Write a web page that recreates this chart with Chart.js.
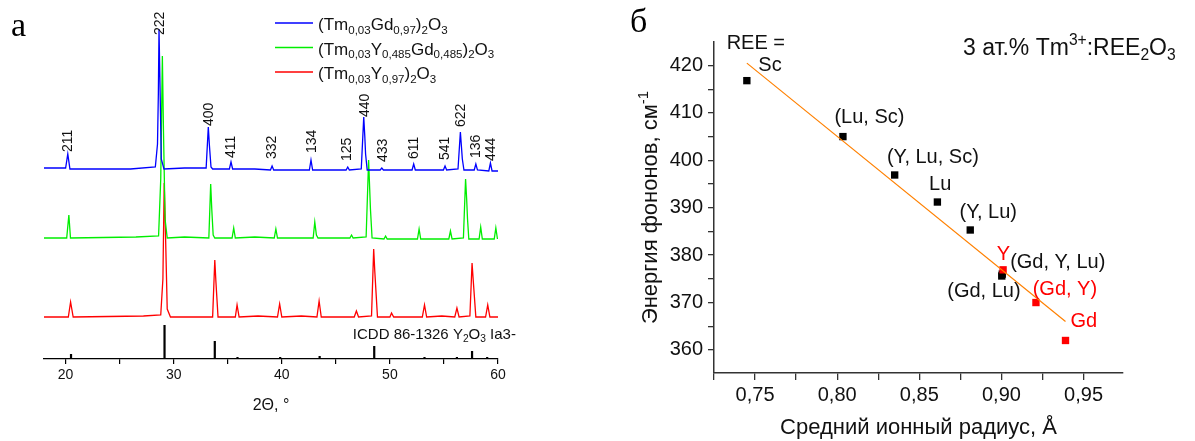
<!DOCTYPE html>
<html>
<head>
<meta charset="utf-8">
<script src="https://cdn.jsdelivr.net/npm/chart.js@4.4.1/dist/chart.umd.min.js"></script>
<style>
  html, body { margin: 0; padding: 0; background: #fff; }
  #wrap { position: relative; width: 1195px; height: 441px; overflow: hidden; }
  #xrd { position: absolute; left: 0; top: 0; }
  #phon { position: absolute; left: 560px; top: 0; }
</style>
</head>
<body>
<div id="wrap">
  <canvas id="xrd" width="560" height="441"></canvas>
  <canvas id="phon" width="635" height="441"></canvas>
</div>
<script>
// ---- panel а : XRD patterns (2θ, intensity incl. vertical offset) ----
const gdPattern = [[18,191],[20.0,191],[20.2,205],[20.4,190],[24,190],[26,190],[28.3,192],[28.5,215],[28.58,266],[28.64,330],[28.75,262],[28.85,200],[29.1,190],[31,191],[33.0,191],[33.2,232],[33.3,214],[33.45,192],[33.6,190],
  [35.15,190],[35.3,197],[35.45,190],[37.5,190],[38.95,189],[39.1,193],[39.25,189],[42.55,189],[42.7,199],[42.85,189],[45.95,189],[46.1,192],[46.25,189],[47.35,190],[47.58,242],[47.68,222],[47.75,205],[47.9,189],
  [49.1,189],[49.25,191],[49.4,189],[52.05,189],[52.2,195],[52.35,189],[54.95,189],[55.1,193],[55.25,189],[56.3,190],[56.52,227],[56.62,212],[56.7,200],[56.85,189],[57.8,189],[57.95,195],[58.1,189],[59.15,188],[59.3,196],[59.45,188],[60,188]];
const gdYPattern = [[18,121],[20.1,121],[20.3,144],[20.45,121],[26.5,122],[28.6,123],[28.8,180],[28.95,303],[29.05,230],[29.2,140],[29.4,121],[31,122],[33.25,121],[33.42,175],[33.52,150],[33.65,124],[33.8,121],
  [35.4,121],[35.55,131],[35.7,121],[37.5,122],[39.3,121],[39.45,130],[39.6,121],[41.5,121],[42.9,121],[43.05,137],[43.2,124],[43.35,121],[46.3,121],[46.45,124],[46.6,121],[47.8,122],[48.03,199],[48.13,170],[48.2,150],[48.35,121],
  [49.45,120],[49.6,123],[49.75,120],[52.55,120],[52.7,130],[52.85,120],[55.45,120],[55.6,128],[55.75,120],[56.8,121],[57.0,180],[57.1,160],[57.18,140],[57.3,120],[58.25,120],[58.4,132],[58.55,120],[59.65,120],[59.8,131],[59.95,120]];
const yPattern = [[18,42],[20.25,42],[20.46,57],[20.7,42],[27.2,43],[28.8,44],[29.0,80],[29.12,176],[29.25,120],[29.4,50],[29.7,42],[33.6,42],[33.8,99],[33.9,78],[34.1,42],[35.7,42],[35.86,54],[36.05,42],[37.8,43],
  [39.6,42],[39.8,55],[40.0,42],[41.8,43],[43.25,42],[43.45,58],[43.65,42],[46.7,42],[46.9,48],[47.1,42],[48.3,43],[48.5,110],[48.6,88],[48.85,42],[50.0,42],[50.15,46],[50.35,42],[53.0,42],[53.2,54],[53.4,42],[54.8,43],
  [56.0,42],[56.2,51],[56.4,42],[57.4,43],[57.6,96],[57.7,80],[57.95,42],[58.85,42],[59.05,54],[59.25,42],[60,42]];
// ICDD 86-1326 reference lines: [2θ, relative height]
const icddSticks = [[20.5,5],[29.15,34],[31.5,1],[33.8,18],[35.9,2],[37.7,1],[39.85,2],[41.7,1],[43.5,3],[46.9,1],[48.55,13],[50.2,1],[53.2,2],[55.0,1],[56.2,2],[57.6,8],[59.0,2]];
// Miller indices over the top pattern
const millerIdx = ['211','222','400','411','332','134','125','440','433','611','541','622','136','444'];
const millerPos = [20.25,28.7,33.25,35.35,39.15,42.8,46.05,47.7,49.35,52.25,55.15,56.6,57.95,59.35];
const millerBase = [207,324,233,201,200,206,198,242,197,200,199,232,201,198];
const xrdTicks = [20, 30, 40, 50, 60];

// ---- panel б : phonon energy vs mean ionic radius ----
const reeBlack = ['Sc','(Lu, Sc)','(Y, Lu, Sc)','Lu','(Y, Lu)','(Gd, Y, Lu)','(Gd, Lu)'];
const radiusBlack = [0.745,0.8035,0.835,0.861,0.881,0.9005,0.9002];
const phononBlack = [416.8,405.0,396.9,391.2,385.3,376.0,375.6];
const reeRed = ['Y','(Gd, Y)','Gd'];
const radiusRed = [0.901,0.921,0.939];
const phononRed = [376.9,370.0,362.0];
const fitRadius = [0.745,0.939];
const fitPhonon = [420.5,366.0];

const SANS = '"Liberation Sans", Arial, sans-serif';

function richText(ctx, x, y, parts, size, color, measureOnly) {
  let cx = x;
  ctx.save();
  ctx.fillStyle = color;
  ctx.textAlign = 'left';
  ctx.textBaseline = 'alphabetic';
  parts.forEach(p => {
    const kind = p[1];
    const s = kind ? size * 0.68 : size;
    const dy = kind === 'sub' ? size * 0.22 : (kind === 'sup' ? -size * 0.42 : 0);
    ctx.font = s + 'px ' + SANS;
    if (!measureOnly) ctx.fillText(p[0], cx, y + dy);
    cx += ctx.measureText(p[0]).width;
  });
  ctx.restore();
  return cx - x;
}

const legendRows = [
  {color: '#0000ff', parts: [['(Tm'],['0,03','sub'],['Gd'],['0,97','sub'],[')'],['2','sub'],['O'],['3','sub']]},
  {color: '#00ee00', parts: [['(Tm'],['0,03','sub'],['Y'],['0,485','sub'],['Gd'],['0,485','sub'],[')'],['2','sub'],['O'],['3','sub']]},
  {color: '#ff0000', parts: [['(Tm'],['0,03','sub'],['Y'],['0,97','sub'],[')'],['2','sub'],['O'],['3','sub']]}
];

const xrdDecor = {
  id: 'xrdDecor',
  afterDraw(chart) {
    const ctx = chart.ctx, xs = chart.scales.x, ys = chart.scales.y;
    // miller labels
    ctx.save();
    ctx.fillStyle = '#111';
    ctx.font = '14px ' + SANS;
    ctx.textAlign = 'left';
    ctx.textBaseline = 'middle';
    millerIdx.forEach((t, i) => {
      ctx.save();
      ctx.translate(xs.getPixelForValue(millerPos[i]), ys.getPixelForValue(millerBase[i]));
      ctx.rotate(-Math.PI / 2);
      ctx.fillText(t, 0, 0);
      ctx.restore();
    });
    ctx.restore();
    // legend
    legendRows.forEach((r, i) => {
      const base = 30 + i * 24.5;
      ctx.save();
      ctx.strokeStyle = r.color;
      ctx.lineWidth = 1.5;
      ctx.beginPath();
      ctx.moveTo(275, base - 7);
      ctx.lineTo(313, base - 7);
      ctx.stroke();
      ctx.restore();
      richText(ctx, 318, base, r.parts, 17, '#111');
    });
    // reference card
    richText(ctx, xs.getPixelForValue(46.57), ys.getPixelForValue(20),
      [['ICDD 86-1326 Y'],['2','sub'],['O'],['3','sub'],[' Ia3-']], 15, '#111');
    // panel letter
    ctx.save();
    ctx.fillStyle = '#000';
    ctx.font = '34px "Liberation Serif", "Times New Roman", serif';
    ctx.textBaseline = 'alphabetic';
    ctx.fillText('а', 11, 36);
    ctx.restore();
  }
};

const stickData = [];
icddSticks.forEach(s => {
  stickData.push({x: s[0], y: 0}, {x: s[0], y: s[1]}, {x: s[0], y: null});
});
const toXY = arr => arr.map(p => ({x: p[0], y: p[1]}));

new Chart(document.getElementById('xrd'), {
  type: 'scatter',
  data: {
    datasets: [
      {data: toXY(gdPattern), borderColor: '#0000ff', borderWidth: 1.3, showLine: true, pointRadius: 0},
      {data: toXY(gdYPattern), borderColor: '#00ee00', borderWidth: 1.3, showLine: true, pointRadius: 0},
      {data: toXY(yPattern), borderColor: '#ff0000', borderWidth: 1.3, showLine: true, pointRadius: 0},
      {data: stickData, borderColor: '#000', borderWidth: 2.2, showLine: true, pointRadius: 0, spanGaps: false}
    ]
  },
  options: {
    responsive: false,
    animation: false,
    events: [],
    layout: {padding: {left: 44, right: 62, top: 19, bottom: 22}},
    plugins: {legend: {display: false}, tooltip: {enabled: false}},
    scales: {
      x: {
        type: 'linear', min: 18, max: 60,
        afterFit(scale) { scale.height = 60; },
        border: {display: true, color: '#000', width: 1.3},
        grid: {display: true, drawOnChartArea: false, drawTicks: true, tickLength: 5, color: '#000', lineWidth: 1.2},
        ticks: {
          stepSize: 5, includeBounds: false, autoSkip: false, maxRotation: 0, padding: 3,
          color: '#111', font: {size: 14, family: SANS},
          callback: v => xrdTicks.includes(v) ? String(v) : ''
        },
        title: {display: true, text: '2Θ, °', color: '#111', font: {size: 16, family: SANS}}
      },
      y: {type: 'linear', min: 0, max: 340, display: false}
    }
  },
  plugins: [xrdDecor]
});

// ---- panel б ----
const noteStyle = {black: '#111', red: '#ff0000'};
const notes = [
  ['REE =', 0.7327, 424.6, 'black'],
  [reeBlack[0], 0.7520, 420.1, 'black'],
  [reeBlack[1], 0.7983, 409.0, 'black'],
  [reeBlack[2], 0.8303, 400.5, 'black'],
  [reeBlack[3], 0.8559, 395.0, 'black'],
  [reeBlack[4], 0.8745, 388.9, 'black'],
  [reeRed[0], 0.8972, 380.1, 'red'],
  [reeBlack[5], 0.9053, 378.4, 'black'],
  [reeBlack[6], 0.8670, 372.4, 'black'],
  [reeRed[1], 0.9190, 372.7, 'red'],
  [reeRed[2], 0.9420, 365.9, 'red']
];

const phonDecor = {
  id: 'phonDecor',
  afterDraw(chart) {
    const ctx = chart.ctx, xs = chart.scales.x, ys = chart.scales.y;
    ctx.save();
    ctx.font = '20px ' + SANS;
    ctx.textAlign = 'left';
    ctx.textBaseline = 'middle';
    notes.forEach(n => {
      ctx.fillStyle = noteStyle[n[3]];
      ctx.fillText(n[0], xs.getPixelForValue(n[1]), ys.getPixelForValue(n[2]));
    });
    ctx.restore();
    // composition title
    richText(ctx, 403, 55, [['3 ат.% Tm'],['3+','sup'],[':REE'],['2','sub'],['O'],['3','sub']], 23, '#111');
    // y-axis title with superscript
    const yParts = [['Энергия фононов, см'],['-1','sup']];
    const w = richText(ctx, 0, 0, yParts, 22, '#111', true);
    ctx.save();
    ctx.translate(89, (chart.chartArea.top + chart.chartArea.bottom) / 2);
    ctx.rotate(-Math.PI / 2);
    richText(ctx, -w / 2, 8, yParts, 22, '#111');
    ctx.restore();
    // panel letter
    ctx.save();
    ctx.fillStyle = '#000';
    ctx.font = '34px "Liberation Serif", "Times New Roman", serif';
    ctx.textBaseline = 'alphabetic';
    ctx.fillText('б', 70, 32);
    ctx.restore();
  }
};

const pts = (xs, ys) => xs.map((x, i) => ({x: x, y: ys[i]}));

new Chart(document.getElementById('phon'), {
  type: 'scatter',
  data: {
    datasets: [
      {data: pts(fitRadius, fitPhonon), showLine: true, borderColor: '#ff8000', borderWidth: 1.2, pointRadius: 0},
      {data: pts(radiusRed, phononRed), pointStyle: 'rect', pointRadius: 5.2, backgroundColor: '#ff0000', borderWidth: 0},
      {data: pts(radiusBlack, phononBlack), pointStyle: 'rect', pointRadius: 5.2, backgroundColor: '#000', borderWidth: 0}
    ]
  },
  options: {
    responsive: false,
    animation: false,
    events: [],
    layout: {padding: {left: 71, right: 72, top: 42, bottom: 0}},
    plugins: {legend: {display: false}, tooltip: {enabled: false}},
    scales: {
      x: {
        type: 'linear', min: 0.725, max: 0.974,
        afterFit(scale) { scale.height = 68; },
        border: {display: true, color: '#333', width: 1.5},
        grid: {display: true, drawOnChartArea: false, drawTicks: true, tickLength: 7, color: '#333', lineWidth: 1.3},
        ticks: {
          stepSize: 0.025, includeBounds: false, autoSkip: false, maxRotation: 0, padding: 3,
          color: '#111', font: {size: 20, family: SANS},
          callback: v => {
            const k = Math.round(v * 1000);
            return k % 50 === 0 ? (k / 1000).toFixed(2).replace('.', ',') : '';
          }
        },
        title: {display: true, text: 'Средний ионный радиус, Å', color: '#111', padding: 0, font: {size: 22, family: SANS}}
      },
      y: {
        type: 'linear', min: 355.14, max: 424.95,
        afterFit(scale) { scale.width = 83; },
        border: {display: true, color: '#333', width: 1.5},
        grid: {display: true, drawOnChartArea: false, drawTicks: true, tickLength: 6, color: '#333', lineWidth: 1.3},
        ticks: {
          stepSize: 5, includeBounds: false, autoSkip: false, padding: 5,
          color: '#111', font: {size: 20, family: SANS},
          callback: v => (Math.round(v) % 10 === 0 ? String(Math.round(v)) : '')
        },
        title: {display: false}
      }
    }
  },
  plugins: [phonDecor]
});
</script>
</body>
</html>
